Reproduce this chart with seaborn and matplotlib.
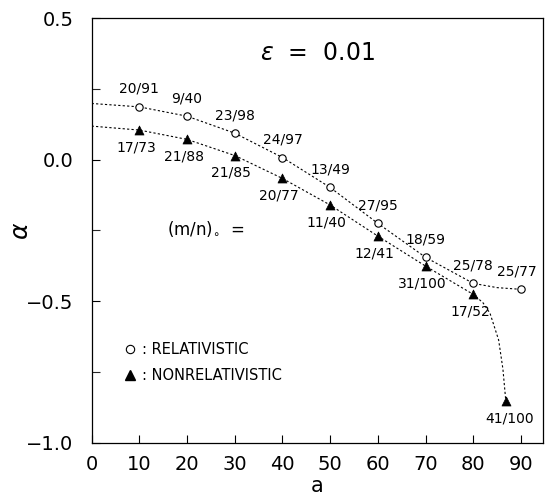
import matplotlib
matplotlib.use("Agg")
import matplotlib.pyplot as plt
from matplotlib.lines import Line2D
import seaborn as sns

# data
rel_a = [10, 20, 30, 40, 50, 60, 70, 80, 90]
rel_alpha = [0.187, 0.154, 0.094, 0.008, -0.098, -0.225, -0.345, -0.437, -0.458]
rel_labels = ["20/91", "9/40", "23/98", "24/97", "13/49", "27/95", "18/59", "25/78", "25/77"]

nonrel_a = [10, 20, 30, 40, 50, 60, 70, 80, 86.8]
nonrel_alpha = [0.105, 0.072, 0.015, -0.066, -0.160, -0.270, -0.376, -0.476, -0.852]
nonrel_labels = ["17/73", "21/88", "21/85", "20/77", "11/40", "12/41", "31/100", "17/52", "41/100"]

# dashed fit curves
rel_curve_a = [0, 10, 20, 30, 40, 50, 60, 70, 80, 85, 90]
rel_curve_alpha = [0.199, 0.187, 0.154, 0.094, 0.008, -0.098, -0.225, -0.345, -0.437, -0.452, -0.458]
nonrel_curve_a = [0, 10, 20, 30, 40, 50, 60, 70, 80, 82, 83.5, 85.3, 86.2, 86.8]
nonrel_curve_alpha = [0.119, 0.105, 0.072, 0.015, -0.066, -0.160, -0.270, -0.376, -0.476, -0.505,
                      -0.543, -0.637, -0.74, -0.852]

sns.set_style("ticks")
plt.rcParams['font.family'] = ['DejaVu Sans']
plt.rcParams['text.color'] = 'k'
plt.rcParams['axes.labelcolor'] = 'k'

fig = plt.figure(figsize=(5.47, 4.95), dpi=100)
ax = fig.add_axes([0.1675, 0.1057, 0.8252, 0.8573])

sns.lineplot(x=rel_curve_a, y=rel_curve_alpha, ax=ax, color='k', lw=0.8,
             linestyle=(0, (2, 2)), sort=False, estimator=None)
sns.lineplot(x=nonrel_curve_a, y=nonrel_curve_alpha, ax=ax, color='k', lw=0.8,
             linestyle=(0, (2, 2)), sort=False, estimator=None)
sns.scatterplot(x=rel_a, y=rel_alpha, ax=ax, marker='o', s=28, facecolor='white',
                edgecolor='k', linewidth=0.8, zorder=3)
sns.scatterplot(x=nonrel_a, y=nonrel_alpha, ax=ax, marker='^', s=42, color='k',
                edgecolor='k', zorder=3)

# fraction labels
for x, y, t in zip(rel_a, rel_alpha, rel_labels):
    dx = -3 if t == "25/77" else 0
    ax.annotate(t, (x, y), xytext=(dx, 13), textcoords='offset points',
                ha='center', va='center', fontsize=10)
for x, y, t in zip(nonrel_a, nonrel_alpha, nonrel_labels):
    dx = 3 if t == "41/100" else -2.5
    ax.annotate(t, (x, y), xytext=(dx, -12.5), textcoords='offset points',
                ha='center', va='center', fontsize=10)

ax.text(0.5, 0.918, r'$\varepsilon$  =  0.01', transform=ax.transAxes,
        ha='center', va='center', fontsize=17)
ax.text(0.167, 0.505, r'(m/n)$_{\circ}$  =', transform=ax.transAxes,
        ha='left', va='center', fontsize=12)

handles = [Line2D([], [], marker='o', ls='none', mfc='white', mec='k', ms=6, mew=0.8),
           Line2D([], [], marker='^', ls='none', color='k', ms=7)]
ax.legend(handles, [': RELATIVISTIC', ': NONRELATIVISTIC'], loc='lower left',
          bbox_to_anchor=(0.04, 0.11), frameon=False, fontsize=10.5,
          handlelength=1.0, handletextpad=0.3, labelspacing=0.75)

ax.set_xlim(0, 94.6)
ax.set_ylim(-1.0, 0.5)
ax.set_xticks(range(0, 100, 10))
ax.set_yticks([0.5, 0.0, -0.5, -1.0])
ax.set_yticks([0.25, -0.25, -0.75], minor=True)
ax.set_yticklabels(['0.5', '0.0', '\u22120.5', '\u22121.0'])
ax.tick_params(direction='in', length=6, width=0.8, labelsize=14, colors='k')
ax.tick_params(axis='y', which='minor', direction='in', length=6, width=0.8)
ax.tick_params(axis='y', pad=13)
ax.tick_params(axis='x', pad=9)
for s in ax.spines.values():
    s.set_visible(True)
    s.set_linewidth(0.9)
    s.set_color('k')

ax.set_xlabel('a', fontsize=15, va='center')
ax.xaxis.set_label_coords(0.5, -0.102)
ax.set_ylabel(r'$\alpha$', fontsize=18)
ax.yaxis.set_label_coords(-0.13, 0.5)

fig.savefig('out.png', dpi=100)
